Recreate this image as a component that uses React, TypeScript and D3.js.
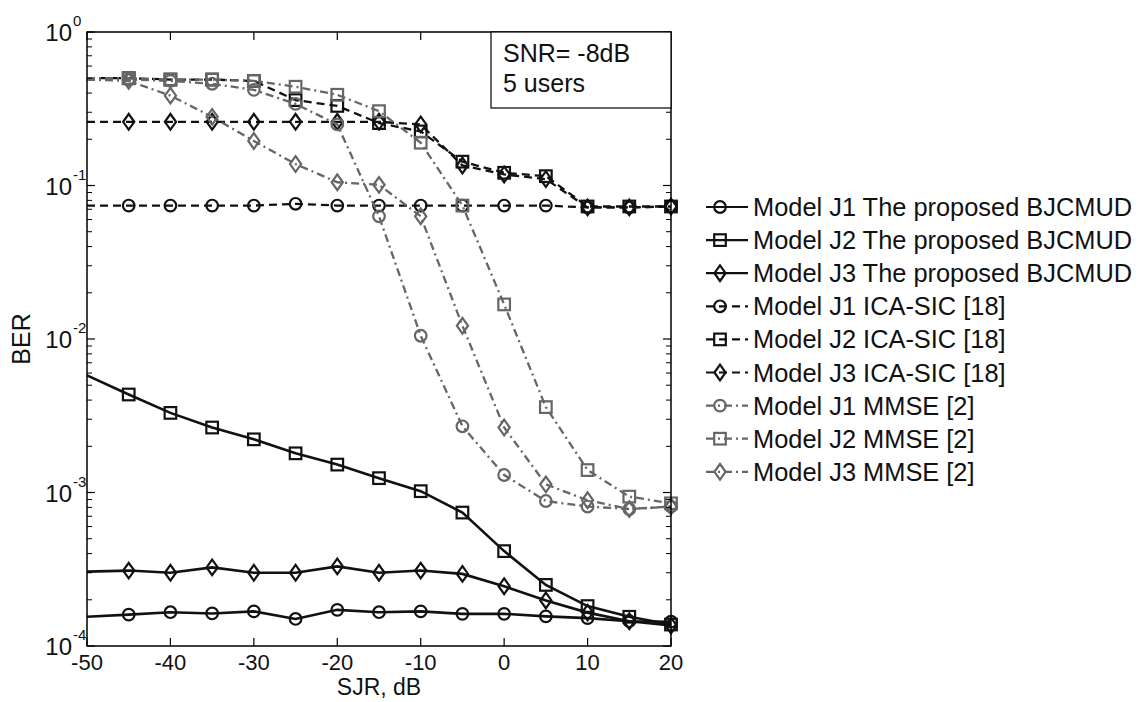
import React from "react";
import * as d3 from "d3";

const sjr = [-50, -45, -40, -35, -30, -25, -20, -15, -10, -5, 0, 5, 10, 15, 20];

const bjJ1 = [1.55e-4, 1.6e-4, 1.66e-4, 1.63e-4, 1.68e-4, 1.5e-4, 1.72e-4, 1.66e-4, 1.68e-4, 1.62e-4, 1.62e-4, 1.56e-4, 1.52e-4, 1.45e-4, 1.44e-4];
const bjJ2 = [5.8e-3, 4.35e-3, 3.3e-3, 2.65e-3, 2.22e-3, 1.8e-3, 1.52e-3, 1.24e-3, 1.02e-3, 7.4e-4, 4.15e-4, 2.5e-4, 1.82e-4, 1.55e-4, 1.38e-4];
const bjJ3 = [3.05e-4, 3.1e-4, 3.0e-4, 3.25e-4, 3.0e-4, 3.0e-4, 3.3e-4, 3.0e-4, 3.1e-4, 2.95e-4, 2.45e-4, 1.98e-4, 1.65e-4, 1.45e-4, 1.36e-4];
const icaJ1 = [0.074, 0.074, 0.074, 0.074, 0.074, 0.076, 0.074, 0.074, 0.074, 0.074, 0.074, 0.074, 0.072, 0.072, 0.073];
const icaJ2 = [0.5, 0.5, 0.49, 0.49, 0.48, 0.36, 0.33, 0.255, 0.225, 0.143, 0.121, 0.115, 0.073, 0.073, 0.073];
const icaJ3 = [0.26, 0.26, 0.26, 0.26, 0.26, 0.26, 0.26, 0.26, 0.25, 0.135, 0.118, 0.11, 0.072, 0.072, 0.073];
const mmseJ1 = [0.49, 0.49, 0.48, 0.46, 0.42, 0.34, 0.25, 0.063, 0.0105, 0.0027, 0.0013, 8.8e-4, 8.1e-4, 7.8e-4, 8.1e-4];
const mmseJ2 = [0.5, 0.5, 0.49, 0.49, 0.48, 0.44, 0.39, 0.305, 0.19, 0.074, 0.0168, 0.0036, 1.4e-3, 9.4e-4, 8.5e-4];
const mmseJ3 = [0.49, 0.48, 0.385, 0.28, 0.195, 0.138, 0.105, 0.101, 0.063, 0.0122, 0.00265, 1.13e-3, 8.9e-4, 7.8e-4, 8.1e-4];

const xTicks = [-50, -40, -30, -20, -10, 0, 10, 20];
const yExponents = [0, -1, -2, -3, -4];
const annotationLines = ["SNR= -8dB", "5 users"];

type Marker = "circle" | "square" | "diamond";
type Style = "solid" | "dashed" | "dashdot";

const series: { label: string; values: number[]; marker: Marker; style: Style; color: string }[] = [
  { label: "Model J1 The proposed BJCMUD", values: bjJ1, marker: "circle", style: "solid", color: "#111" },
  { label: "Model J2 The proposed BJCMUD", values: bjJ2, marker: "square", style: "solid", color: "#111" },
  { label: "Model J3 The proposed BJCMUD", values: bjJ3, marker: "diamond", style: "solid", color: "#111" },
  { label: "Model J1 ICA-SIC [18]", values: icaJ1, marker: "circle", style: "dashed", color: "#111" },
  { label: "Model J2 ICA-SIC [18]", values: icaJ2, marker: "square", style: "dashed", color: "#111" },
  { label: "Model J3 ICA-SIC [18]", values: icaJ3, marker: "diamond", style: "dashed", color: "#111" },
  { label: "Model J1 MMSE [2]", values: mmseJ1, marker: "circle", style: "dashdot", color: "#666" },
  { label: "Model J2 MMSE [2]", values: mmseJ2, marker: "square", style: "dashdot", color: "#666" },
  { label: "Model J3 MMSE [2]", values: mmseJ3, marker: "diamond", style: "dashdot", color: "#666" },
];

const FONT = "'Liberation Sans', Arial, Helvetica, sans-serif";
const L = 87, R = 671, T = 32, B = 646;

const x = d3.scaleLinear().domain([-50, 20]).range([L, R]);
const y = d3.scaleLog().domain([1e-4, 1]).range([B, T]);

const dash: Record<Style, string | undefined> = {
  solid: undefined,
  dashed: "8 5",
  dashdot: "8 4 2 4",
};

function MarkerShape({ kind, cx, cy, color }: { kind: Marker; cx: number; cy: number; color: string }) {
  const common = { fill: "none", stroke: color, strokeWidth: 2.2 };
  if (kind === "circle") return <circle cx={cx} cy={cy} r={5.8} {...common} />;
  if (kind === "square") return <rect x={cx - 5.8} y={cy - 5.8} width={11.6} height={11.6} {...common} />;
  return <path d={`M${cx},${cy - 7.8}L${cx + 5.6},${cy}L${cx},${cy + 7.8}L${cx - 5.6},${cy}Z`} {...common} />;
}

export default function App() {
  const line = d3
    .line<number>()
    .x((_, i) => x(sjr[i]))
    .y((v) => y(v));

  const minorTicks: number[] = [];
  for (let e = -4; e < 0; e++) for (let k = 2; k <= 9; k++) minorTicks.push(k * Math.pow(10, e));

  const legendX = 706;
  const legendY0 = 207;
  const legendDY = 33.1;

  return (
    <svg
      width={1141}
      height={702}
      style={{ position: "absolute", left: 0, top: 0, background: "#fff" }}
      fontFamily={FONT}
    >
      <rect x={0} y={0} width={1141} height={702} fill="#fff" />
      {series.map((s) => (
        <g key={s.label}>
          <path
            d={line(s.values) || ""}
            fill="none"
            stroke={s.color}
            strokeWidth={s.style === "solid" ? 2.6 : 2.3}
            strokeDasharray={dash[s.style]}
          />
          {s.values.map((v, i) =>
            i === 0 ? null : <MarkerShape key={i} kind={s.marker} cx={x(sjr[i])} cy={y(v)} color={s.color} />
          )}
        </g>
      ))}

      <rect x={L} y={T} width={R - L} height={B - T} fill="none" stroke="#000" strokeWidth={1.5} />

      {xTicks.map((t) => (
        <g key={t}>
          <line x1={x(t)} x2={x(t)} y1={B} y2={B - 8} stroke="#000" strokeWidth={1.2} />
          <line x1={x(t)} x2={x(t)} y1={T} y2={T + 8} stroke="#000" strokeWidth={1.2} />
          <text x={x(t)} y={B + 24} textAnchor="middle" fontSize={22} fill="#111">
            {t}
          </text>
        </g>
      ))}

      {yExponents.map((e) => {
        const yy = y(Math.pow(10, e));
        return (
          <g key={e}>
            <line x1={L} x2={L + 8} y1={yy} y2={yy} stroke="#000" strokeWidth={1.2} />
            <line x1={R} x2={R - 8} y1={yy} y2={yy} stroke="#000" strokeWidth={1.2} />
            <text x={72} y={yy + 9} textAnchor="end" fontSize={24} fill="#111">
              10
            </text>
            <text x={73} y={yy - 6} textAnchor="start" fontSize={15} fill="#111">
              {e}
            </text>
          </g>
        );
      })}
      {minorTicks.map((v) => (
        <g key={v}>
          <line x1={L} x2={L + 5} y1={y(v)} y2={y(v)} stroke="#000" strokeWidth={1} />
          <line x1={R} x2={R - 5} y1={y(v)} y2={y(v)} stroke="#000" strokeWidth={1} />
        </g>
      ))}

      <text x={(L + R) / 2} y={695} textAnchor="middle" fontSize={23} fill="#111">
        SJR, dB
      </text>
      <text
        transform={`translate(30,${(T + B) / 2}) rotate(-90)`}
        textAnchor="middle"
        fontSize={25}
        fill="#111"
      >
        BER
      </text>

      <rect x={491} y={T} width={R - 491} height={108 - T} fill="#fff" stroke="#000" strokeWidth={1.2} />
      {annotationLines.map((t, i) => (
        <text key={t} x={503} y={62 + i * 30} fontSize={25} fill="#111">
          {t}
        </text>
      ))}

      {series.map((s, i) => {
        const ly = legendY0 + i * legendDY;
        return (
          <g key={s.label}>
            <line
              x1={legendX}
              x2={legendX + 42}
              y1={ly}
              y2={ly}
              stroke={s.color}
              strokeWidth={2.2}
              strokeDasharray={dash[s.style]}
            />
            <MarkerShape kind={s.marker} cx={legendX + 14} cy={ly} color={s.color} />
            <text x={753} y={ly + 9} fontSize={25.4} fill="#111">
              {s.label}
            </text>
          </g>
        );
      })}
    </svg>
  );
}
